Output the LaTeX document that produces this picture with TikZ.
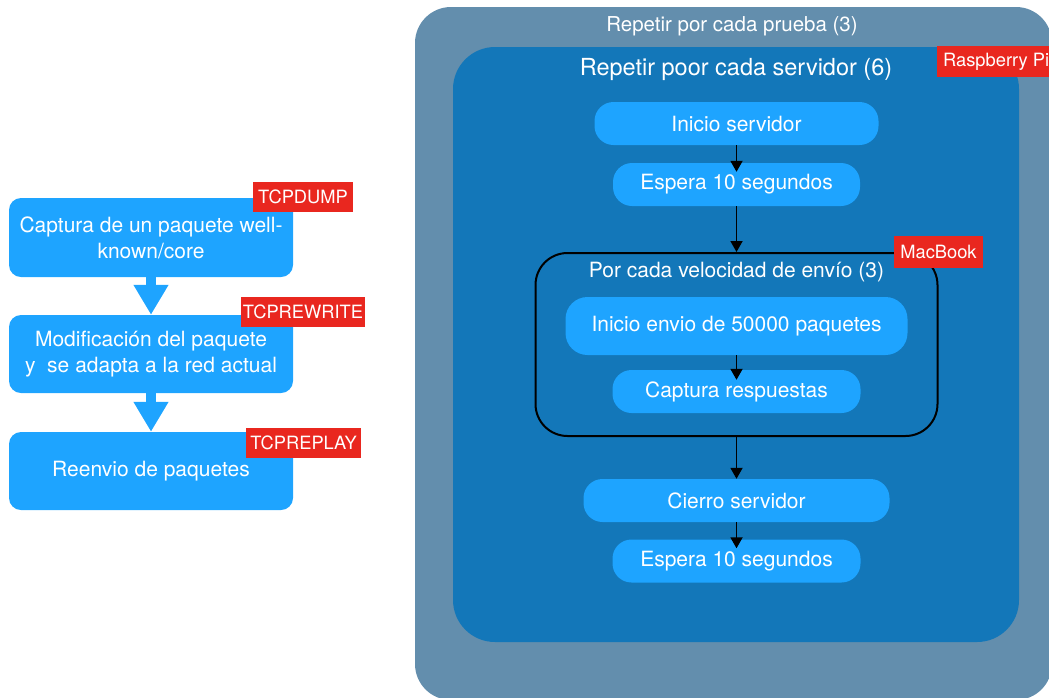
\documentclass[tikz,border=0pt]{standalone}
\usepackage{fontspec}
\setmainfont{TeX Gyre Heros}
\usetikzlibrary{arrows.meta}

\definecolor{outerblue}{RGB}{99,142,173}
\definecolor{innerblue}{RGB}{19,119,185}
\definecolor{boxblue}{RGB}{30,164,255}
\definecolor{tagred}{RGB}{233,39,31}

\begin{document}
\begin{tikzpicture}[x=1pt,y=-1pt,
  flowbox/.style={fill=boxblue, text=white, rounded corners=12pt, inner sep=0pt,
    align=center, font=\fontsize{21}{26}\selectfont},
  stepbox/.style={fill=boxblue, text=white, rounded corners=19pt, inner sep=0pt,
    minimum height=43pt, font=\fontsize{21}{24}\selectfont},
  tagbox/.style={fill=tagred, text=white, inner sep=0pt, minimum height=30pt,
    font=\fontsize{18.3}{20}\selectfont},
  titletext/.style={text=white, inner sep=0pt},
  fatarrow/.style={draw=boxblue, line width=10pt,
    -{Triangle[width=33pt,length=30pt]}},
  thinarrow/.style={draw=black, line width=1.8pt,
    -{Triangle[width=12pt,length=11pt]}}
]
\useasboundingbox (0,0) rectangle (1049,697);

% ---- left: capture / rewrite / replay pipeline ----
\node[flowbox, minimum width=284pt, minimum height=79pt] (cap) at (151,237.5)
  {Captura de un paquete well-\\known/core};
\node[flowbox, minimum width=284pt, minimum height=78pt] (mod) at (151,354)
  {Modificación del paquete\\y\ \ se adapta a la red actual};
\node[flowbox, minimum width=284pt, minimum height=78pt] (rep) at (151,471)
  {Reenvio de paquetes};

\draw[fatarrow] (cap.south) -- (mod.north);
\draw[fatarrow] (mod.south) -- (rep.north);

\node[tagbox, minimum width=100pt] (tdump) at (303,197) {TCPDUMP};
\node[tagbox, minimum width=124pt] (trew) at (303,312) {TCPREWRITE};
\node[tagbox, minimum width=115pt] (trep) at (303.5,443) {TCPREPLAY};

% ---- right: nested test loops ----
\node[fill=outerblue, rounded corners=36pt, minimum width=637pt, minimum height=693pt,
  inner sep=0pt] (outer) at (733.5,353.5) {};
\node[fill=innerblue, rounded corners=42pt, minimum width=566pt, minimum height=595pt,
  inner sep=0pt] (inner) at (736,344.5) {};

\node[titletext, font=\fontsize{20.5}{24}\selectfont] (outertitle) at (732,26)
  {Repetir por cada prueba (3)};
\node[titletext, font=\fontsize{23.5}{27}\selectfont] (innertitle) at (736,69)
  {Repetir poor cada servidor (6)};

\node[tagbox, anchor=west, inner xsep=6pt, minimum height=31pt] (rpi) at (937,61.5)
  {Raspberry Pi\hspace{6pt}};

\node[stepbox, minimum width=284pt] (inis) at (736.5,123.5) {Inicio servidor};
\node[stepbox, minimum width=247pt] (esp1) at (736.5,184.5) {Espera 10 segundos};

\node[draw=black, line width=2pt, rounded corners=32pt, minimum width=402pt,
  minimum height=183pt, inner sep=0pt] (loop) at (736.5,344.5) {};
\node[titletext, font=\fontsize{21}{24}\selectfont] (looptitle) at (736.5,272)
  {Por cada velocidad de envío (3)};

\node[stepbox, minimum width=342pt, minimum height=58pt, rounded corners=22pt]
  (envio) at (736.5,326) {Inicio envio de 50000 paquetes};
\node[stepbox, minimum width=248pt] (capr) at (736.5,391.5) {Captura respuestas};

\node[stepbox, minimum width=306pt] (cierre) at (736.5,500.5) {Cierro servidor};
\node[stepbox, minimum width=248pt] (esp2) at (736.5,561) {Espera 10 segundos};

\node[tagbox, minimum width=89pt, minimum height=32pt] (mac) at (loop.north east)
  {MacBook};

\draw[thinarrow, shorten >=-9pt] (inis.south) -- (esp1.north);
\draw[thinarrow] (esp1.south) -- (loop.north);
\draw[thinarrow, shorten >=-10pt] (envio.south) -- (capr.north);
\draw[thinarrow] (loop.south) -- (cierre.north);
\draw[thinarrow, shorten >=-9pt] (cierre.south) -- (esp2.north);
\end{tikzpicture}
\end{document}
